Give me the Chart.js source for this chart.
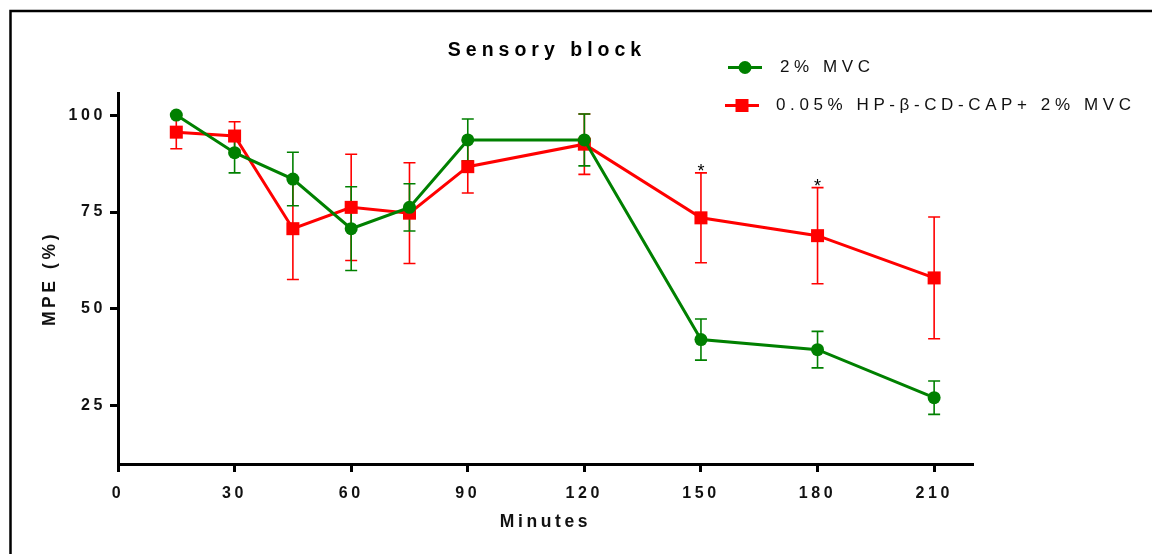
<!DOCTYPE html>
<html>
<head>
<meta charset="utf-8">
<script src="https://cdn.jsdelivr.net/npm/chart.js@4/dist/chart.umd.min.js"></script>
<style>
  html, body { margin: 0; padding: 0; background: #fff; }
  #wrap { width: 1152px; height: 554px; }
</style>
</head>
<body>
<div id="wrap"><canvas id="chart" width="1152" height="554"></canvas></div>
<script>
'use strict';

// data
const minutes = [15, 30, 45, 60, 75, 90, 120, 150, 180, 210];
const mvc = [100, 90.3, 83.5, 70.7, 76.2, 93.6, 93.6, 42.1, 39.5, 27.1];
const mvcErr = [0, 5.2, 6.9, 10.8, 6.1, 5.4, 6.7, 5.3, 4.7, 4.3];
const cap = [95.6, 94.6, 70.7, 76.2, 74.7, 86.7, 92.5, 73.5, 68.9, 58.0];
const capErr = [4.3, 3.7, 13.1, 13.7, 13.0, 6.8, 7.8, 11.6, 12.4, 15.7];
const capStars = [false, false, false, false, false, false, false, true, true, false];
const xTicks = [0, 30, 60, 90, 120, 150, 180, 210];
const yTicks = [25, 50, 75, 100];
const seriesNames = ['2% MVC', '0.05% HP-\u03B2-CD-CAP+ 2% MVC'];

const FONT = '"Liberation Sans", Arial, sans-serif';
const GREEN = '#008000';
const RED = '#ff0000';

let canvasElem = document.getElementById('chart');

function toPoints(xs, ys) {
    let pts = [];
    for (let i = 0; i < xs.length; i++) {
        pts.push({x: xs[i], y: ys[i]});
    }
    return pts;
}

// frame, title, letter spacing for axis text
const decorPlugin = {
    id: 'decor',
    beforeDraw(chart) {
        let ctx = chart.ctx;
        ctx.save();
        ctx.strokeStyle = '#000';
        ctx.lineWidth = 2.5;
        ctx.beginPath();
        ctx.moveTo(10.5, 554);
        ctx.lineTo(10.5, 11);
        ctx.lineTo(1152, 11);
        ctx.stroke();

        ctx.fillStyle = '#000';
        ctx.font = 'bold 19.5px ' + FONT;
        ctx.letterSpacing = '5px';
        ctx.textAlign = 'center';
        ctx.textBaseline = 'middle';
        ctx.fillText('Sensory block', 547, 51);
        ctx.restore();
        ctx.letterSpacing = '3.6px';
    },
    afterDraw(chart) {
        let ctx = chart.ctx;
        ctx.letterSpacing = '0px';
        // legend
        const rows = [67.5, 105.5];
        chart.data.datasets.forEach((ds, i) => {
            let y = rows[i];
            let cx = i === 0 ? 745 : 742;
            ctx.save();
            ctx.strokeStyle = ds.borderColor;
            ctx.lineWidth = 3;
            ctx.beginPath();
            ctx.moveTo(cx - 17, y);
            ctx.lineTo(cx + 17, y);
            ctx.stroke();
            ctx.fillStyle = ds.backgroundColor;
            if (ds.pointStyle === 'rect') {
                ctx.fillRect(cx - 6.5, y - 6.5, 13, 13);
            } else {
                ctx.beginPath();
                ctx.arc(cx, y, 6.5, 0, Math.PI * 2);
                ctx.fill();
            }
            ctx.fillStyle = '#111';
            ctx.font = '17px ' + FONT;
            ctx.letterSpacing = '4.6px';
            ctx.textAlign = 'left';
            ctx.textBaseline = 'middle';
            ctx.fillText(ds.label, i === 0 ? 780 : 776, y);
            ctx.restore();
        });
    }
};

// SEM error bars, drawn under the markers
const errorBarPlugin = {
    id: 'errorBars',
    beforeDatasetsDraw(chart) {
        let ctx = chart.ctx;
        let xs = chart.scales.x;
        let ys = chart.scales.y;
        for (let d = chart.data.datasets.length - 1; d >= 0; d--) {
            let ds = chart.data.datasets[d];
            ctx.save();
            ctx.strokeStyle = ds.borderColor;
            ctx.lineWidth = 1.6;
            ds.data.forEach((p, i) => {
                let e = ds.errors[i];
                if (!e) return;
                let px = xs.getPixelForValue(p.x);
                let top = ys.getPixelForValue(p.y + e);
                let bot = ys.getPixelForValue(p.y - e);
                ctx.beginPath();
                ctx.moveTo(px, top);
                ctx.lineTo(px, bot);
                ctx.moveTo(px - 6, top);
                ctx.lineTo(px + 6, top);
                ctx.moveTo(px - 6, bot);
                ctx.lineTo(px + 6, bot);
                ctx.stroke();
                if (ds.stars && ds.stars[i]) {
                    ctx.fillStyle = '#000';
                    ctx.font = '18px ' + FONT;
                    ctx.textAlign = 'center';
                    ctx.textBaseline = 'alphabetic';
                    ctx.letterSpacing = '0px';
                    ctx.fillText('*', px, top + 4);
                }
            });
            ctx.restore();
        }
    }
};

function renderChart() {
    let chartObj = {
        type: 'line',
        data: {
            datasets: [{
                label: seriesNames[0],
                data: toPoints(minutes, mvc),
                errors: mvcErr,
                borderColor: GREEN,
                backgroundColor: GREEN,
                borderWidth: 3,
                pointStyle: 'circle',
                pointRadius: 6.5,
                pointBorderWidth: 0,
                tension: 0
            }, {
                label: seriesNames[1],
                data: toPoints(minutes, cap),
                errors: capErr,
                stars: capStars,
                borderColor: RED,
                backgroundColor: RED,
                borderWidth: 3,
                pointStyle: 'rect',
                pointRadius: 9.2,
                pointBorderWidth: 0,
                tension: 0
            }]
        },
        options: {
            responsive: false,
            animation: false,
            events: [],
            layout: {padding: {left: 0, top: 93, right: 179, bottom: 0}},
            plugins: {
                legend: {display: false},
                title: {display: false},
                tooltip: {enabled: false}
            },
            scales: {
                x: {
                    type: 'linear',
                    min: 0,
                    max: 220,
                    afterBuildTicks(scale) {
                        scale.ticks = xTicks.map(v => ({value: v}));
                    },
                    afterFit(scale) {
                        scale.height = 90;
                    },
                    grid: {drawOnChartArea: false, drawTicks: true, tickLength: 8, tickWidth: 3, tickColor: '#000'},
                    border: {display: true, width: 3, color: '#000'},
                    ticks: {
                        color: '#111',
                        padding: 12,
                        maxRotation: 0,
                        font: {family: FONT, size: 16, weight: 'bold'}
                    },
                    title: {
                        display: true,
                        text: 'Minutes',
                        color: '#111',
                        padding: {top: 0, bottom: 21},
                        font: {family: FONT, size: 17.5, weight: 'bold'}
                    }
                },
                y: {
                    min: 10,
                    max: 105.7,
                    afterBuildTicks(scale) {
                        scale.ticks = yTicks.map(v => ({value: v}));
                    },
                    afterFit(scale) {
                        scale.width = 118;
                    },
                    grid: {drawOnChartArea: false, drawTicks: true, tickLength: 8, tickWidth: 3, tickColor: '#000'},
                    border: {display: true, width: 3, color: '#000'},
                    ticks: {
                        color: '#111',
                        padding: 4,
                        font: {family: FONT, size: 16, weight: 'bold'}
                    },
                    title: {
                        display: true,
                        text: 'MPE (%)',
                        color: '#111',
                        padding: {top: 40, bottom: 0},
                        font: {family: FONT, size: 17.5, weight: 'bold'}
                    }
                }
            }
        },
        plugins: [decorPlugin, errorBarPlugin]
    };
    new Chart(canvasElem, chartObj);
}

renderChart();
</script>
</body>
</html>
